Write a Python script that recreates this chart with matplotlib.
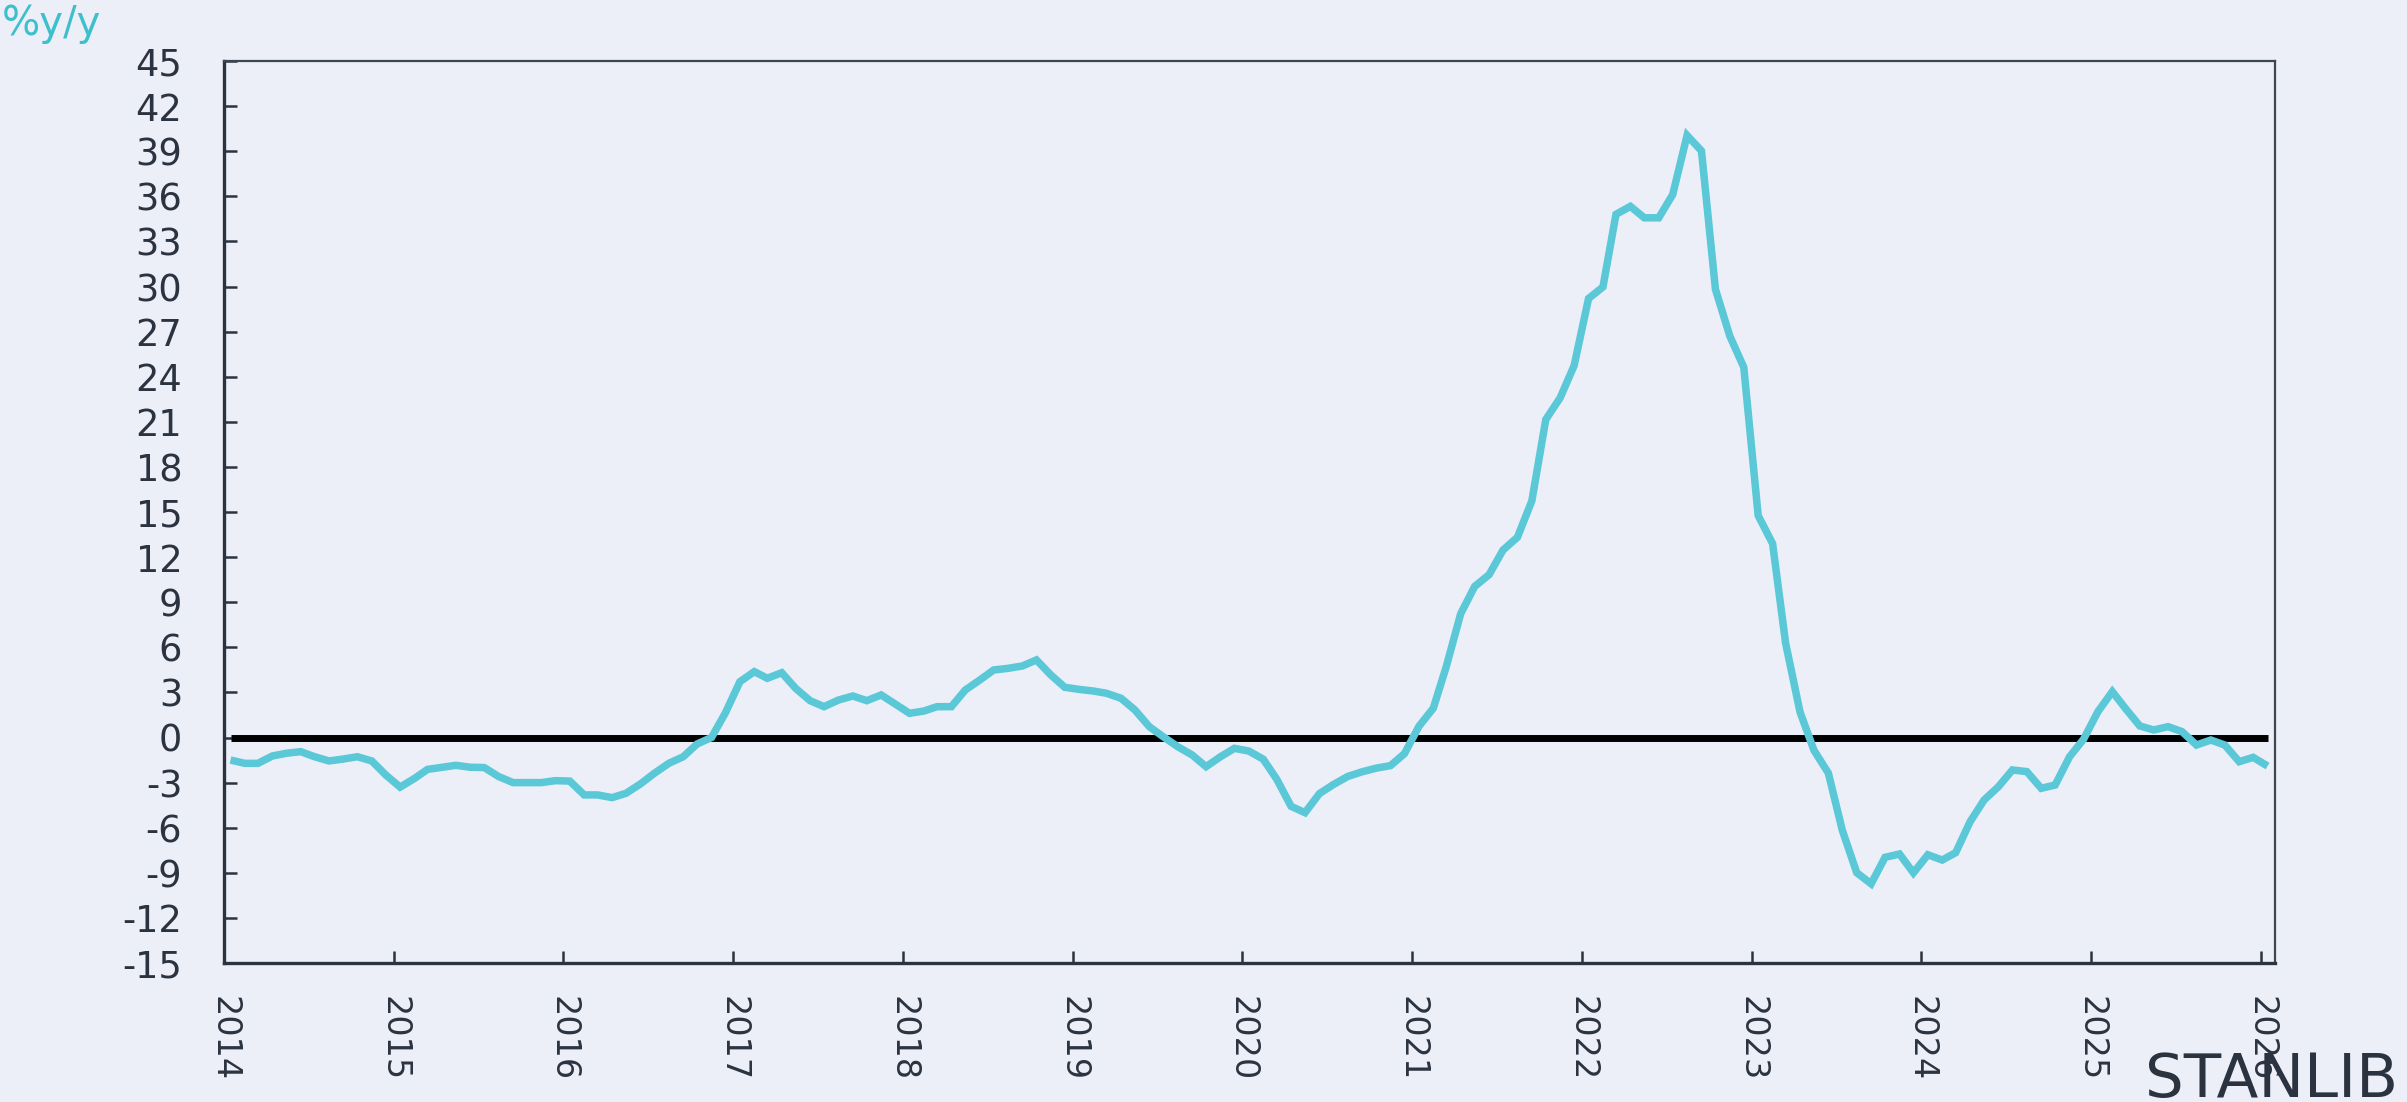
import matplotlib
matplotlib.use("Agg")
import matplotlib.pyplot as plt
import pandas as pd

# ---- data (monthly, %y/y) ----
start_month = "2014-01"
end_month = "2026-01"
values = [
    # 2014
    -1.50, -1.72, -1.72, -1.23, -1.05, -0.94, -1.28, -1.56, -1.43, -1.28, -1.56, -2.49,
    # 2015
    -3.30, -2.72, -2.12, -1.98, -1.85, -1.98, -2.00, -2.60, -3.00, -3.00, -3.00, -2.87,
    # 2016
    -2.90, -3.82, -3.82, -4.00, -3.71, -3.09, -2.38, -1.72, -1.28, -0.43, 0.00, 1.65,
    # 2017
    3.71, 4.38, 3.94, 4.31, 3.27, 2.45, 2.05, 2.49, 2.76, 2.45, 2.83, 2.23,
    # 2018
    1.61, 1.76, 2.05, 2.05, 3.16, 3.82, 4.49, 4.60, 4.76, 5.16, 4.16, 3.34,
    # 2019
    3.20, 3.09, 2.94, 2.61, 1.83, 0.72, 0.05, -0.61, -1.16, -1.94, -1.28, -0.72,
    # 2020
    -0.90, -1.44, -2.77, -4.58, -5.00, -3.73, -3.13, -2.59, -2.28, -2.04, -1.87, -1.07,
    # 2021
    0.74, 1.95, 4.73, 8.24, 10.05, 10.83, 12.47, 13.32, 15.74, 21.15, 22.60, 24.74,
    # 2022
    29.20, 29.97, 34.80, 35.33, 34.57, 34.57, 36.11, 40.05, 39.02, 29.82, 26.70, 24.63,
    # 2023
    14.76, 12.90, 6.28, 1.70, -0.85, -2.37, -6.17, -8.99, -9.73, -7.97, -7.75, -9.00,
    # 2024
    -7.80, -8.15, -7.66, -5.60, -4.16, -3.27, -2.16, -2.27, -3.38, -3.16, -1.28, -0.12,
    # 2025
    1.72, 3.05, 1.94, 0.77, 0.50, 0.72, 0.39, -0.50, -0.17, -0.50, -1.61, -1.32,
    # 2026
    -1.90,
]
zero_line = [0.0] * len(values)
y_ticks = list(range(-15, 46, 3))
year_ticks = list(range(2014, 2027))
y_label = "%y/y"
brand = "STANLIB"

# ---- styling ----
BG = "#ECEFF8"
LINE = "#5AC8D7"
TXT = "#2B3240"
W, H = 2407, 1102
DPI = 100

dates = pd.date_range(start_month, end_month, freq="MS") + pd.Timedelta(days=14)

fig = plt.figure(figsize=(W / DPI, H / DPI), dpi=DPI, facecolor=BG)
ax = fig.add_axes([224 / W, 1 - 963 / H, (2275 - 224) / W, (963 - 61) / H])
ax.set_facecolor(BG)

ax.plot(dates, zero_line, color="black", lw=5.0, solid_capstyle="butt", zorder=2)
ax.plot(dates, values, color=LINE, lw=5.4, solid_joinstyle="miter",
        solid_capstyle="butt", zorder=3)

ax.set_ylim(-15, 45)
ax.set_yticks(y_ticks)
ax.set_yticklabels([str(t) for t in y_ticks])

ax.set_xlim(pd.Timestamp("2014-01-01"), pd.Timestamp("2026-01-31"))
ax.set_xticks([pd.Timestamp(f"{y}-01-01") for y in year_ticks])
ax.set_xticklabels([str(y) for y in year_ticks], rotation=270)

ax.tick_params(axis="y", direction="in", length=9.5, width=1.8, colors=TXT,
               labelsize=26.5, pad=30)
ax.tick_params(axis="x", direction="in", length=8.5, width=1.8, colors=TXT,
               labelsize=24, pad=24)
for lab in ax.get_xticklabels() + ax.get_yticklabels():
    lab.set_color(TXT)

for side in ["left", "bottom"]:
    ax.spines[side].set_color(TXT)
    ax.spines[side].set_linewidth(2.4)
for side in ["top", "right"]:
    ax.spines[side].set_color("#3E4450")
    ax.spines[side].set_linewidth(1.6)

fig.text(2 / W, 1 - 4 / H, y_label, color="#3DBFCC", fontsize=29,
         ha="left", va="top")
fig.text(2398 / W, 1 - 1097 / H, brand, color=TXT, fontsize=44,
         ha="right", va="baseline", family="DejaVu Sans")

fig.savefig("out.png", dpi=DPI, facecolor=BG)
